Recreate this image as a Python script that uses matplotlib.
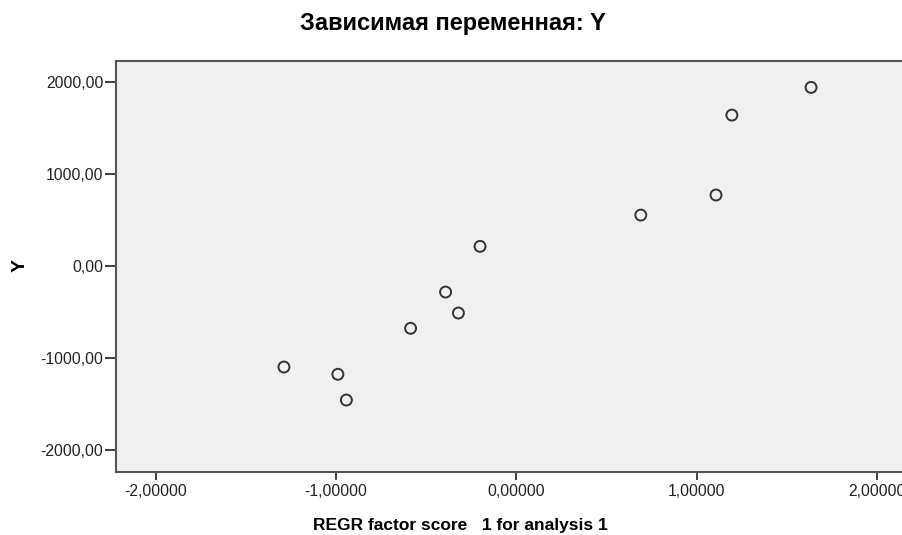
import matplotlib.pyplot as plt
from matplotlib.ticker import FuncFormatter

plt.rcParams['font.family'] = ['Liberation Sans', 'DejaVu Sans']

# factor scores vs dependent variable
factor_score = [-1.289, -0.990, -0.943, -0.587, -0.393, -0.322, -0.202, 0.689, 1.106, 1.194, 1.633]
y_values = [-1098, -1177, -1457, -677, -283, -511, 214, 554, 772, 1641, 1942]

x_ticks = [-2, -1, 0, 1, 2]
y_ticks = [-2000, -1000, 0, 1000, 2000]

fig = plt.figure(figsize=(9.02, 5.35), dpi=100)
# plot area runs past the right edge, as in the original export
ax = fig.add_axes([0.1286, 0.1178, 0.888, 0.768])
ax.set_facecolor('#f0f0f0')

ax.scatter(factor_score, y_values, s=62, facecolors='none', edgecolors='#333333', linewidths=1.4, zorder=3)

ax.set_xlim(-2.22, 2.22)
ax.set_ylim(-2239, 2228)
ax.set_xticks(x_ticks)
ax.set_yticks(y_ticks)
ax.xaxis.set_major_formatter(FuncFormatter(lambda v, p: f"{v:.5f}".replace('.', ',')))
ax.yaxis.set_major_formatter(FuncFormatter(lambda v, p: f"{v:.2f}".replace('.', ',')))
ax.tick_params(direction='out', width=1.3, color='#333333', labelsize=11.3, labelcolor='#222222')
ax.tick_params(axis='x', length=6, pad=3)
ax.tick_params(axis='y', length=8, pad=1)

for side in ['left', 'bottom', 'top', 'right']:
    ax.spines[side].set_color('#555555')
    ax.spines[side].set_linewidth(1.5)

fig.text(0.502, 0.956, "Зависимая переменная: Y", ha='center', va='center', fontsize=17, fontweight='bold')
fig.text(0.51, 0.018, "REGR factor score   1 for analysis 1", ha='center', va='center', fontsize=12.5, fontweight='bold')
fig.text(0.022, 0.503, "Y", ha='center', va='center', rotation=90, fontsize=14, fontweight='bold')

plt.savefig('out.png', dpi=100)
